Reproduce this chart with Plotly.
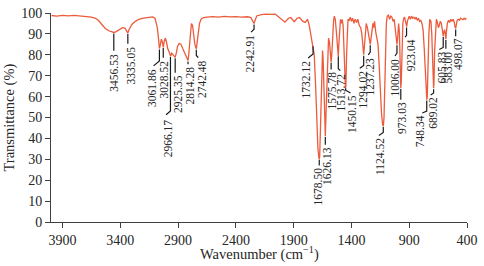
import numpy as np
import plotly.graph_objects as go

# ---------------- data ----------------
WAVENUMBER = [
    3995, 3950, 3900, 3850, 3800, 3750, 3700, 3650, 3620, 3590, 3560, 3530, 3500, 3470, 3456,
    3440, 3410, 3380, 3360, 3345, 3335, 3325, 3300, 3270, 3240, 3200, 3160, 3120, 3100, 3090,
    3080, 3070, 3062, 3055, 3045, 3036, 3028, 3020, 3010, 3000, 2990, 2975, 2966, 2955, 2945,
    2935, 2925, 2915, 2905, 2890, 2875, 2860, 2845, 2830, 2820, 2814, 2808, 2800, 2792, 2785,
    2775, 2765, 2755, 2742, 2735, 2725, 2715, 2700, 2680, 2650, 2600, 2550, 2500, 2450, 2400,
    2350, 2300, 2270, 2255, 2243, 2232, 2220, 2180, 2140, 2100, 2060, 2050, 2010, 1975, 1945,
    1925, 1895, 1870, 1850, 1820, 1800, 1780, 1765, 1750, 1740, 1732, 1722, 1710, 1700, 1690,
    1680, 1675, 1668, 1660, 1655, 1650, 1645, 1638, 1630, 1626, 1620, 1612, 1605, 1598, 1590,
    1583, 1576, 1570, 1562, 1555, 1548, 1540, 1532, 1524, 1518, 1514, 1509, 1502, 1495, 1488,
    1480, 1472, 1465, 1458, 1452, 1448, 1442, 1436, 1430, 1420, 1410, 1400, 1390, 1378, 1368,
    1355, 1345, 1332, 1320, 1310, 1300, 1294, 1288, 1280, 1272, 1262, 1252, 1244, 1237, 1230,
    1222, 1214, 1208, 1200, 1190, 1180, 1170, 1160, 1150, 1140, 1130, 1124, 1118, 1112, 1105,
    1098, 1090, 1080, 1070, 1060, 1050, 1040, 1030, 1020, 1012, 1006, 1000, 992, 985, 978,
    973, 969, 962, 955, 948, 940, 932, 926, 922, 916, 908, 900, 890, 880, 870,
    860, 850, 840, 830, 820, 810, 800, 790, 780, 770, 760, 752, 748, 744, 738,
    730, 722, 712, 705, 698, 692, 689, 686, 680, 672, 665, 658, 648, 640, 632,
    622, 612, 606, 600, 594, 588, 583, 578, 570, 560, 550, 540, 530, 520, 510,
    504, 498, 492, 485, 475, 465, 455, 445, 435, 425, 415, 405,
]
TRANSMITTANCE = [
    98.8, 98.5, 98.9, 98.6, 98.9, 98.7, 98.3, 98.0, 97.6, 96.5, 94.5, 92.6, 91.5, 91.0, 90.7,
    91.0, 92.0, 93.0, 92.8, 91.5, 90.4, 92.0, 94.5, 96.0, 97.0, 97.6, 98.0, 98.1, 97.5, 95.5,
    93.0, 88.0, 83.0, 84.5, 87.5, 86.0, 83.5, 86.5, 88.0, 86.0, 83.0, 81.0, 79.5, 80.8, 80.0,
    79.2, 78.8, 81.0, 84.0, 85.5, 85.0, 83.0, 81.0, 79.0, 77.5, 77.3, 80.0, 87.0, 93.0, 95.0,
    94.0, 89.0, 85.0, 82.8, 86.0, 91.0, 95.0, 97.2, 97.8, 98.0, 98.3, 98.0, 98.4, 98.1, 98.3,
    98.0, 98.2, 97.8, 96.5, 95.0, 96.8, 98.6, 99.2, 99.5, 99.3, 99.5, 99.0, 97.0, 95.6, 97.5,
    97.8, 95.8, 97.5, 97.8, 96.0, 95.5, 97.0, 94.0, 89.0, 86.0, 84.5, 80.0, 65.0, 48.0, 35.0,
    30.0, 31.0, 45.0, 70.0, 80.0, 82.0, 78.0, 60.0, 44.0, 41.0, 52.0, 70.0, 84.0, 88.0, 86.0,
    80.0, 76.5, 80.0, 90.0, 96.0, 98.5, 97.0, 92.0, 85.0, 81.0, 79.5, 85.0, 94.0, 97.0, 95.0,
    97.0, 94.0, 85.0, 72.0, 64.0, 65.0, 80.0, 92.0, 97.0, 96.5, 98.0, 96.0, 97.5, 95.0, 97.0,
    95.5, 97.0, 94.0, 93.0, 90.0, 82.0, 80.0, 84.0, 92.0, 95.0, 93.0, 89.0, 86.0, 85.0, 88.0,
    92.0, 95.0, 93.0, 96.0, 91.0, 87.0, 85.0, 75.0, 62.0, 52.0, 46.5, 46.0, 50.0, 65.0, 85.0,
    95.0, 98.5, 99.0, 97.0, 98.5, 98.0, 96.0, 97.0, 92.0, 86.0, 85.0, 88.0, 95.0, 91.0, 72.0,
    64.0, 67.0, 85.0, 95.0, 97.5, 98.0, 96.0, 93.5, 93.5, 96.0, 97.5, 98.5, 97.0, 98.5, 97.5,
    98.0, 97.0, 98.0, 96.5, 97.5, 96.0, 96.5, 95.0, 92.0, 83.0, 70.0, 60.0, 58.5, 60.0, 75.0,
    90.0, 97.0, 96.0, 90.0, 80.0, 68.0, 64.0, 66.0, 82.0, 95.0, 97.0, 96.0, 93.0, 94.0, 96.0,
    95.0, 92.0, 89.0, 91.0, 92.0, 90.0, 87.5, 91.0, 95.0, 96.5, 95.5, 97.0, 96.0, 97.0, 95.5,
    93.5, 92.6, 94.5, 96.5, 97.0, 96.5, 97.5, 97.0, 96.8, 97.5, 97.0, 97.5,
]
PEAK_LABELS = [
    "3456.53", "3335.05", "3061.86", "3028.52", "2966.17", "2925.35", "2814.28", "2742.48",
    "2242.91", "1732.12", "1678.50", "1626.13", "1575.78", "1513.72", "1450.15", "1294.02",
    "1237.23", "1124.52", "1006.00", "973.03", "923.04", "748.34", "689.02", "605.83",
    "583.00", "498.07",
]
X_TICKS = [3900, 3400, 2900, 2400, 1900, 1400, 900, 400]
Y_TICKS = list(range(0, 101, 10))

# ---------------- label leader styling (pixels) ----------------
LEADER_LEN = [18, 10, 12, 10, 56, 15, 3, 6, 5, 8, 6, 8, 7, 13, 2, 10, 7, 6, 8, 11, 8, 11, 4, 11, 9, 7]
LEADER_BX = [0, 0, -6, 0, -4.5, 0, 0, 2, -3, -5, 0, 0, 0, 2, 5, -4, -2, -4.5, -2, 0, -1.5, -4.5, -3, -4, 0, 0]
LEADER_BY = [0, 0, 5, 0, 4, 0, 0, 2, 3, 4, 0, 0, 0, 2, 3, 3, 3, 3, 3, 0, 2, 2, 2, 2, 0, 0]
TEXT_DX = [0.5, 3.5, -7, 1, -3, 3.5, 2, 5, -4, -7, -1.5, 1.5, 0.5, 3, 7, -1, 0, -3.5, -1.7, 1, 4, -6, 0, -1.7, 2.6, 3]

W, H = 484, 266
ML, MR, MT, MB = 51, 8, 6, 44
PW, PH = W - ML - MR, H - MT - MB
X_LO, X_HI = 400, 4000
KX = (X_HI - X_LO) / PW   # wavenumber units per pixel
KY = 100.0 / PH           # transmittance units per pixel

SERIF = "Liberation Serif, Times New Roman, serif"
TXT = "#262626"

wn = np.array(WAVENUMBER, dtype=float)
tr = np.array(TRANSMITTANCE, dtype=float)
order = np.argsort(wn)


def curve_at(w):
    return float(np.interp(w, wn[order], tr[order]))


fig = go.Figure()
fig.add_trace(go.Scatter(x=WAVENUMBER, y=TRANSMITTANCE, mode="lines",
                         line=dict(color="#EC5B3C", width=1.3), hoverinfo="skip"))

lx, ly, annotations = [], [], []
for lab, L, bx, by, tdx in zip(PEAK_LABELS, LEADER_LEN, LEADER_BX, LEADER_BY, TEXT_DX):
    w = float(lab)
    t0 = curve_at(w)
    y_start = t0 - 1 * KY
    y_end = y_start - L * KY
    xs, ys = [w, w], [y_start, y_end]
    if bx or by:
        xs.append(w - bx * KX)
        ys.append(y_end - by * KY)
    lx += xs + [None]
    ly += ys + [None]
    annotations.append(dict(
        x=w, y=t0, xref="x", yref="y", text=lab, textangle=-90, showarrow=False,
        xanchor="center", yanchor="top", xshift=tdx, yshift=-(1 + L + by + 1),
        font=dict(family=SERIF, size=11.5, color=TXT), borderpad=0))

fig.add_trace(go.Scatter(x=lx, y=ly, mode="lines", line=dict(color="#1a1a1a", width=1.2),
                         hoverinfo="skip", cliponaxis=False))

annotations.append(dict(x=0.5, y=0, xref="paper", yref="paper", yshift=-31,
                        text="Wavenumber (cm<sup>−1</sup>)", showarrow=False,
                        xanchor="center", yanchor="middle",
                        font=dict(family=SERIF, size=14.5, color=TXT)))
annotations.append(dict(x=0, y=0.5, xref="paper", yref="paper", xshift=-42,
                        text="Transmittance (%)", textangle=-90, showarrow=False,
                        xanchor="center", yanchor="middle",
                        font=dict(family=SERIF, size=14.5, color=TXT)))

fig.update_layout(
    width=W, height=H, margin=dict(l=ML, r=MR, t=MT, b=MB),
    paper_bgcolor="white", plot_bgcolor="white", showlegend=False,
    annotations=annotations,
    xaxis=dict(range=[X_HI, X_LO], tickvals=X_TICKS, ticks="outside", ticklen=5,
               tickcolor="#404040", showline=True, linecolor="#404040", linewidth=1,
               showgrid=False, zeroline=False, ticklabeloverflow="allow",
               tickfont=dict(family=SERIF, size=14, color=TXT)),
    yaxis=dict(range=[0, 100], tickvals=Y_TICKS, ticks="outside", ticklen=5,
               tickcolor="#404040", showline=True, linecolor="#404040", linewidth=1,
               showgrid=False, zeroline=False, ticklabeloverflow="allow",
               tickfont=dict(family=SERIF, size=14, color=TXT)),
)

fig.write_html("out.html", config={"displayModeBar": False},
               post_script="document.body.style.margin='0';document.body.style.overflow='hidden';")
